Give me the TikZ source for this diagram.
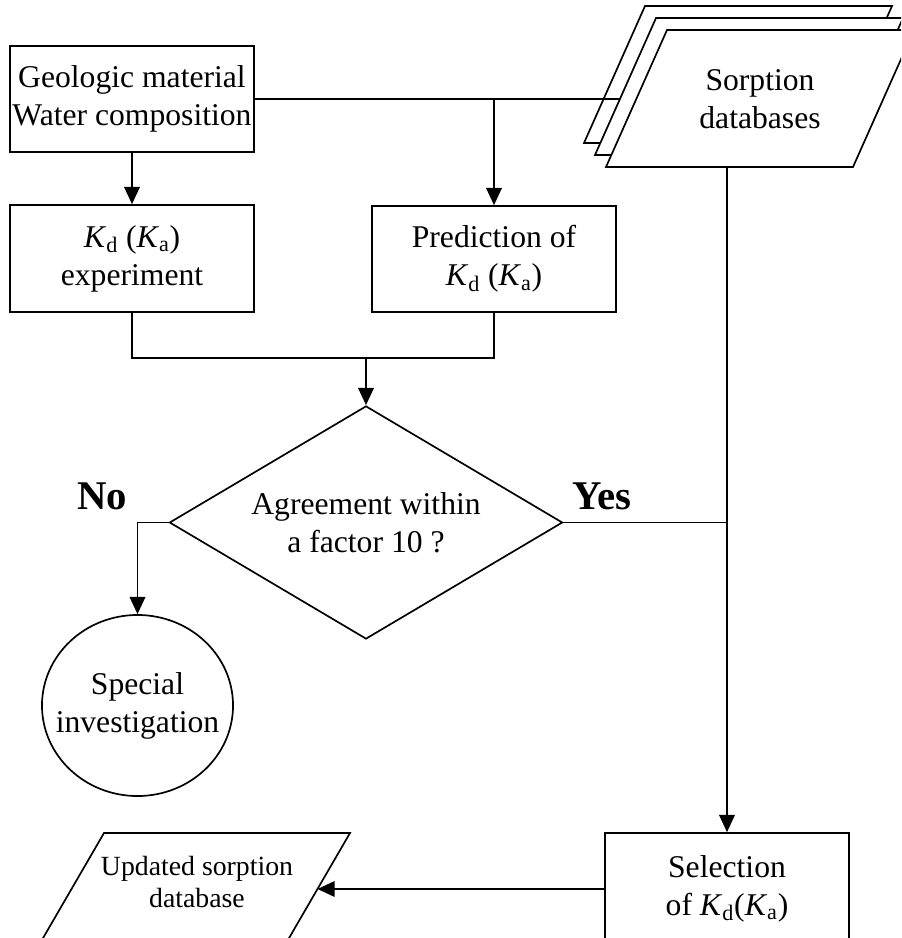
\documentclass[tikz,border=0pt]{standalone}
\usepackage{fontspec}
\setmainfont{Liberation Serif}
\usetikzlibrary{arrows.meta,shapes.geometric}

\newcommand{\Ksub}[1]{\textit{K}\textsubscript{#1}}

\begin{document}
\begin{tikzpicture}[x=0.025cm, y=-0.025cm, line width=1.2pt,
    box/.style={draw, rectangle, minimum width=6.1cm, minimum height=2.65cm, inner sep=0pt},
    arr/.style={-{Triangle[length=4.3mm, width=3.9mm]}}]
    \tikzstyle{every node}=[font=\fontsize{22.5}{27}\selectfont, align=center]
      \useasboundingbox (0,0) rectangle (901,938);
      \clip (0,0) rectangle (901,938);

      % sorption databases, three sheets
      \foreach \dx/\dy in {22/24, 11/12, 0/0}{
        \draw[fill=white] (606-\dx,167-\dy) -- (853-\dx,167-\dy)
          -- (914-\dx,30-\dy) -- (667-\dx,30-\dy) -- cycle;
      }
      \node (sorp) at (760,99) {Sorption\\databases};
      \coordinate (sleft) at (620,99);
      \coordinate (sbot) at (727,167);

      % boxes
      \node[box] (geo) at (132,99) {Geologic material\\Water composition};
      \node[box, minimum height=2.675cm] (kdexp) at (132,258.5) {\Ksub{d} (\Ksub{a})\\experiment};
      \node[box] (pred) at (494,259) {Prediction of\\\Ksub{d} (\Ksub{a})};

      % decision
      \node[draw, diamond, shape aspect=1.69, minimum width=9.825cm, minimum height=5.825cm,
            inner sep=0pt] (agree) at (366,522.5) {Agreement within\\a factor 10 ?};
      \node[font=\fontsize{29}{30}\selectfont\bfseries] (no) at (102,496) {No};
      \node[font=\fontsize{29}{30}\selectfont\bfseries] (yes) at (602,496) {Yes};

      \node[draw, ellipse, minimum width=4.775cm, minimum height=4.525cm] (special) at (137.5,705.5) {};
      \node (spectxt) at (special) {Special\\investigation};

      \node[box, minimum height=2.8cm] (select) at (727,889) {Selection\\of \Ksub{d}(\Ksub{a})};

      % updated database
      \draw (104,833) -- (350,833) -- (285,945) -- (39,945) -- cycle;
      \node[font=\fontsize{19.75}{23.4}\selectfont] (updtxt) at (197,882) {Updated sorption\\database};
      \coordinate (upd) at (317.5,889);

      % connectors
      \coordinate (mrg) at (366,358);
      \draw[arr] (geo) -- (kdexp);
      \draw (geo.east) -- (sleft);
      \draw[arr] (geo.east -| pred.north) -- (pred.north);
      \draw (kdexp.south) |- (mrg) -| (pred.south);
      \draw[arr] (mrg) -- (agree.north);
      \draw[arr] (agree.west) -| (special.north);
      \draw (agree.east) -- (agree.east -| sbot);
      \draw[arr] (sbot) -- (select.north);
      \draw[arr] (select.west) -- (upd);

    \end{tikzpicture}
\end{document}
